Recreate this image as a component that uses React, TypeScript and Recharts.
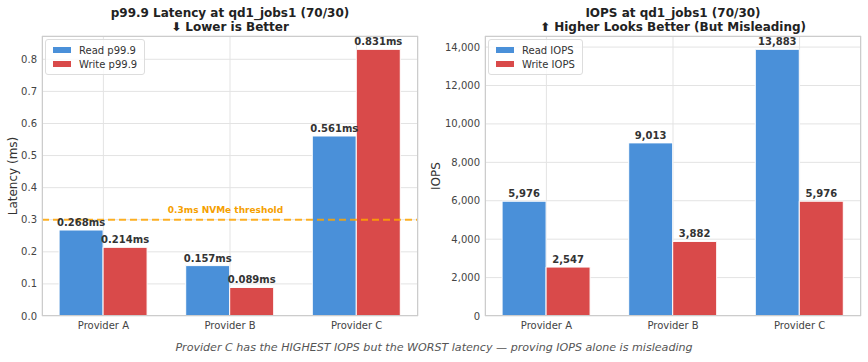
import React from 'react';
import { BarChart, Bar, XAxis, YAxis, CartesianGrid, Legend, ReferenceLine, LabelList } from 'recharts';

const providers = ['Provider A', 'Provider B', 'Provider C'];
const readLatency = [0.268, 0.157, 0.561];
const writeLatency = [0.214, 0.089, 0.831];
const readIops = [5976, 9013, 13883];
const writeIops = [2547, 3882, 5976];
const latencyTicks = [0, 0.1, 0.2, 0.3, 0.4, 0.5, 0.6, 0.7, 0.8];
const iopsTicks = [0, 2000, 4000, 6000, 8000, 10000, 12000, 14000];
const threshold = 0.3;

const BLUE = '#4a90d9';
const RED = '#d94a4a';
const FONT = '"DejaVu Sans", sans-serif';

const latencyData = providers.map((p, i) => ({ pos: i, read: readLatency[i], write: writeLatency[i] }));
const iopsData = providers.map((p, i) => ({ pos: i, read: readIops[i], write: writeIops[i] }));

const tickStyle = { fontSize: 10, fill: '#444', fontFamily: FONT };
const valueStyle = { fontSize: 10, fill: '#333', fontWeight: 'bold', fontFamily: FONT };

function LegendBox({ payload }: any) {
  return (
    <div style={{ background: 'rgba(255,255,255,0.8)', border: '1px solid #ddd', borderRadius: 3, padding: '3px 7px 3px 7px', fontFamily: FONT, fontSize: 10, color: '#333' }}>
      {(payload || []).map((e: any) => (
        <div key={e.value} style={{ display: 'flex', alignItems: 'center', height: 14 }}>
          <span style={{ width: 18, height: 6, background: e.color, marginRight: 8, display: 'inline-block' }} />
          {e.value}
        </div>
      ))}
    </div>
  );
}

function ThresholdLabel({ viewBox }: any) {
  const { x, y, width } = viewBox;
  return (
    <text x={x + width * 0.488} y={y - 7} textAnchor="middle" fontSize={9} fontWeight="bold" fill="#f5a000" fontFamily={FONT}>
      0.3ms NVMe threshold
    </text>
  );
}

const titleStyle: React.CSSProperties = {
  position: 'absolute', top: 6, width: 400, textAlign: 'center', fontFamily: FONT,
  fontWeight: 'bold', fontSize: 12, lineHeight: '14px', color: '#222',
};

// legend: vertical + center/middle so recharts does not shrink the plot for it
const legendProps = { layout: 'vertical' as const, align: 'center' as const, verticalAlign: 'middle' as const };

export default function App() {
  return (
    <div style={{ position: 'absolute', left: 0, top: 0, width: 868, height: 362, background: '#fff', fontFamily: FONT }}>
      <div style={{ ...titleStyle, left: 30 }}>p99.9 Latency at qd1_jobs1 (70/30)<br />⬇ Lower is Better</div>
      <div style={{ ...titleStyle, left: 473 }}>IOPS at qd1_jobs1 (70/30)<br />⬆ Higher Looks Better (But Misleading)</div>

      <div style={{ position: 'absolute', left: 13, top: 176, transform: 'translate(-50%,-50%) rotate(-90deg)', fontSize: 12, color: '#333', whiteSpace: 'nowrap' }}>Latency (ms)</div>
      <div style={{ position: 'absolute', left: 436, top: 176, transform: 'translate(-50%,-50%) rotate(-90deg)', fontSize: 12, color: '#333', whiteSpace: 'nowrap' }}>IOPS</div>

      <div style={{ position: 'absolute', left: 0, top: 0 }}>
        <BarChart width={430} height={340} data={latencyData} margin={{ top: 36, right: 12, bottom: 0, left: 0 }} barCategoryGap="15%" barGap={0}>
          <CartesianGrid stroke="#e3e3e3" />
          <XAxis dataKey="pos" type="number" domain={[-0.485, 2.485]} ticks={[0, 1, 2]} allowDataOverflow
            tickFormatter={(v: number) => providers[v]} tick={tickStyle} tickLine={false} axisLine={false} height={24} tickSize={0} tickMargin={6} />
          <YAxis type="number" domain={[0, 0.8726]} ticks={latencyTicks} allowDataOverflow tickFormatter={(v: number) => v.toFixed(1)}
            tick={tickStyle} tickLine={false} axisLine={false} width={42} tickSize={0} tickMargin={5} />
          <Legend {...legendProps} wrapperStyle={{ position: 'absolute', top: 39, left: 45, width: 'auto' }} content={<LegendBox />} />
          <Bar dataKey="read" name="Read p99.9" fill={BLUE} stroke="#fff" strokeWidth={1} isAnimationActive={false}>
            <LabelList dataKey="read" position="top" offset={4} formatter={(v: number) => `${v.toFixed(3)}ms`} style={valueStyle} />
          </Bar>
          <Bar dataKey="write" name="Write p99.9" fill={RED} stroke="#fff" strokeWidth={1} isAnimationActive={false}>
            <LabelList dataKey="write" position="top" offset={4} formatter={(v: number) => `${v.toFixed(3)}ms`} style={valueStyle} />
          </Bar>
          <ReferenceLine y={threshold} stroke="#ffa500" strokeOpacity={0.85} strokeWidth={2} strokeDasharray="7 4" label={<ThresholdLabel />} />
        </BarChart>
      </div>

      <div style={{ position: 'absolute', left: 434, top: 0 }}>
        <BarChart width={434} height={340} data={iopsData} margin={{ top: 36, right: 7, bottom: 0, left: 0 }} barCategoryGap="15%" barGap={0}>
          <CartesianGrid stroke="#e3e3e3" />
          <XAxis dataKey="pos" type="number" domain={[-0.485, 2.485]} ticks={[0, 1, 2]} allowDataOverflow
            tickFormatter={(v: number) => providers[v]} tick={tickStyle} tickLine={false} axisLine={false} height={24} tickSize={0} tickMargin={6} />
          <YAxis type="number" domain={[0, 14577]} ticks={iopsTicks} allowDataOverflow tickFormatter={(v: number) => v.toLocaleString('en-US')}
            tick={tickStyle} tickLine={false} axisLine={false} width={51} tickSize={0} tickMargin={5} />
          <Legend {...legendProps} wrapperStyle={{ position: 'absolute', top: 39, left: 54, width: 'auto' }} content={<LegendBox />} />
          <Bar dataKey="read" name="Read IOPS" fill={BLUE} stroke="#fff" strokeWidth={1} isAnimationActive={false}>
            <LabelList dataKey="read" position="top" offset={4} formatter={(v: number) => v.toLocaleString('en-US')} style={valueStyle} />
          </Bar>
          <Bar dataKey="write" name="Write IOPS" fill={RED} stroke="#fff" strokeWidth={1} isAnimationActive={false}>
            <LabelList dataKey="write" position="top" offset={4} formatter={(v: number) => v.toLocaleString('en-US')} style={valueStyle} />
          </Bar>
        </BarChart>
      </div>

      <div style={{ position: 'absolute', left: 42, top: 36, width: 376, height: 280, border: '1px solid #ccc', boxSizing: 'border-box', pointerEvents: 'none' }} />
      <div style={{ position: 'absolute', left: 485, top: 36, width: 376, height: 280, border: '1px solid #ccc', boxSizing: 'border-box', pointerEvents: 'none' }} />

      <div style={{ position: 'absolute', left: 0, top: 341, width: 868, textAlign: 'center', fontSize: 11.1, fontStyle: 'italic', color: '#555' }}>
        Provider C has the HIGHEST IOPS but the WORST latency — proving IOPS alone is misleading
      </div>
    </div>
  );
}
